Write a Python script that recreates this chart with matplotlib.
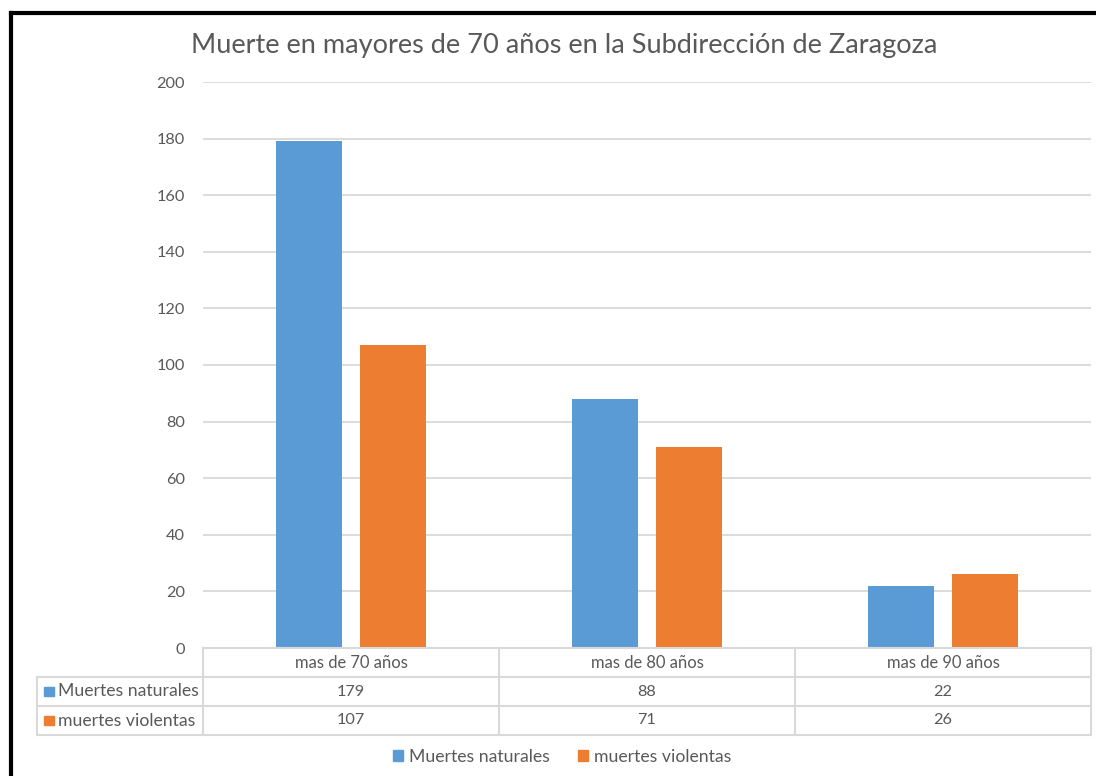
import numpy as np
import matplotlib.pyplot as plt
from matplotlib.lines import Line2D
from matplotlib.patches import Rectangle

plt.rcParams['font.family'] = ['Lato', 'DejaVu Sans']

# --- data ---
categories = ['mas de 70 años', 'mas de 80 años', 'mas de 90 años']
series_names = ['Muertes naturales', 'muertes violentas']
naturales = [179, 88, 22]
violentas = [107, 71, 26]
colors = ['#5B9BD5', '#ED7D31']
title = 'Muerte en mayores de 70 años en la Subdirección de Zaragoza'

W, H = 1096, 776
text_col = '#595959'
grid_col = '#d9d9d9'
fs = 11.7
fs_names = 12.7

fig = plt.figure(figsize=(W / 100, H / 100), dpi=100)

def px_rect(x0, y0, x1, y1):
    # pixel box (top-left origin) -> figure fraction rect
    return [x0 / W, 1 - y1 / H, (x1 - x0) / W, (y1 - y0) / H]

# main plot area
ax = fig.add_axes(px_rect(203, 82, 1091, 648))
x = np.arange(len(categories))
bw = 0.223
off = 0.142
for i, (vals, name) in enumerate(zip([naturales, violentas], series_names)):
    ax.bar(x + (-off if i == 0 else off), vals, width=bw, color=colors[i], label=name, zorder=3)

ax.set_xlim(-0.5, len(categories) - 0.5)
ax.set_ylim(0, 200)
ax.set_yticks(range(0, 201, 20))
ax.yaxis.grid(True, color=grid_col, linewidth=1.3, zorder=0)
ax.set_xticks([])
for s in ax.spines.values():
    s.set_visible(False)
ax.tick_params(axis='y', length=0, pad=13, labelsize=fs, labelcolor=text_col)

fig.text(564 / W, 1 - 45 / H, title, ha='center', va='center', fontsize=19.5, color=text_col)

# --- data table under the plot ---
tax = fig.add_axes(px_rect(37, 648, 1091, 735))
left = -0.5 - (203 - 37) / 296
tax.set_xlim(left, len(categories) - 0.5)
tax.set_ylim(3, 0)
tax.axis('off')
lw = 1.5
# horizontal lines
tax.plot([-0.5, 2.5], [0, 0], color=grid_col, lw=lw, clip_on=False)
for yy in [1, 2, 3]:
    tax.plot([left, 2.5], [yy, yy], color=grid_col, lw=lw, clip_on=False)
# vertical lines
for xx in [-0.5, 0.5, 1.5, 2.5]:
    tax.plot([xx, xx], [0, 3], color=grid_col, lw=lw, clip_on=False)
tax.plot([left, left], [1, 3], color=grid_col, lw=lw, clip_on=False)

for j, cat in enumerate(categories):
    tax.text(j, 0.5, cat, ha='center', va='center', fontsize=11.9, color=text_col)
for r, (vals, name) in enumerate(zip([naturales, violentas], series_names)):
    yy = r + 1.5
    for j, v in enumerate(vals):
        tax.text(j, yy, str(v), ha='center', va='center', fontsize=fs, color=text_col)
    tax.add_patch(Rectangle((left + 7 / 296, yy - 0.17), 10 / 296, 0.34, color=colors[r], clip_on=False))
    tax.text(left + 21 / 296, yy, name, ha='left', va='center', fontsize=fs_names, color=text_col)

# legend
handles = [Rectangle((0, 0), 1, 1, color=c) for c in colors]
fig.legend(handles, series_names, loc='center', bbox_to_anchor=(562 / W, 1 - 757 / H), ncol=2,
           frameon=False, fontsize=fs_names, labelcolor=text_col, handlelength=0.6, handleheight=0.6,
           handletextpad=0.3, columnspacing=1.6)

# black frame (top and left)
fig.add_artist(Line2D([10.5 / W, 1], [1 - 12.5 / H, 1 - 12.5 / H], color='black', lw=3))
fig.add_artist(Line2D([10.5 / W, 10.5 / W], [0, 1 - 12.5 / H], color='black', lw=3))

fig.savefig('out.png', dpi=100, facecolor='white')
